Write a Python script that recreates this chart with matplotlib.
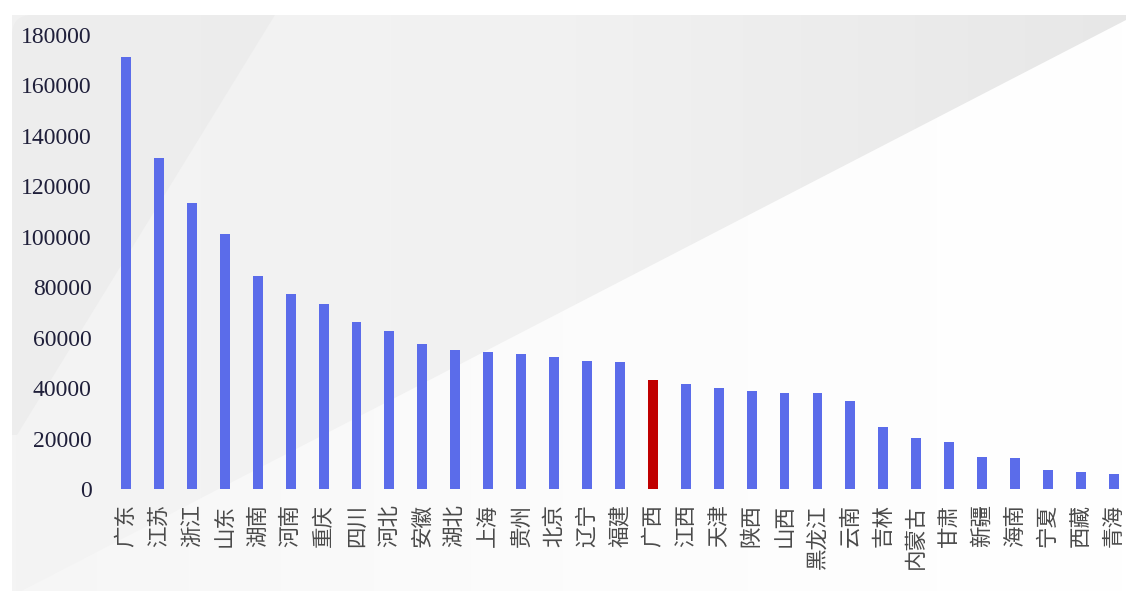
import numpy as np
import matplotlib.pyplot as plt
from matplotlib.colors import LinearSegmentedColormap
from matplotlib.patches import Polygon, FancyBboxPatch

provinces = ["广东", "江苏", "浙江", "山东", "湖南", "河南", "重庆", "四川", "河北", "安徽",
             "湖北", "上海", "贵州", "北京", "辽宁", "福建", "广西", "江西", "天津", "陕西",
             "山西", "黑龙江", "云南", "吉林", "内蒙古", "甘肃", "新疆", "海南", "宁夏", "西藏", "青海"]
values = [171200, 131200, 113300, 101100, 84300, 77200, 73200, 66200, 62600, 57400,
          55100, 54300, 53400, 52300, 50700, 50300, 43100, 41500, 39900, 38900,
          38000, 38000, 34900, 24400, 20100, 18600, 12800, 12300, 7500, 6700, 6100]
highlight = "广西"
yticks = [0, 20000, 40000, 60000, 80000, 100000, 120000, 140000, 160000, 180000]

W, H = 1126, 591
fig = plt.figure(figsize=(W / 100, H / 100), dpi=100)
fig.patch.set_facecolor("white")

# background decoration, pixel coords
bg = fig.add_axes([0, 0, 1, 1], zorder=0)
bg.set_xlim(0, W)
bg.set_ylim(H, 0)
bg.axis("off")
grad = np.linspace(0, 1, 256)[None, :]
cmap = LinearSegmentedColormap.from_list("g", ["#f4f4f4", "#f1f1f1", "#e7e7e7"])
img = bg.imshow(grad, cmap=cmap, extent=[12, 1140, 600, 15], aspect="auto", zorder=0)
box = FancyBboxPatch((12, 15), 1140, 600, boxstyle="round,pad=0,rounding_size=20",
                     facecolor="none", edgecolor="none")
bg.add_patch(box)
img.set_clip_path(box)
# darker wedge on the left
bg.add_patch(Polygon([(12, 15), (275, 15), (17, 435), (12, 435)],
                     closed=True, facecolor="#e9e9e9", edgecolor="none", zorder=1, alpha=0.6))
# lighter lower-right area below the long diagonal
wcmap = LinearSegmentedColormap.from_list("w", ["#f6f6f6", "#fcfcfc", "#ffffff"])
wimg = bg.imshow(grad, cmap=wcmap, extent=[0, 1126, 602, 20], aspect="auto", zorder=2)
tri = Polygon([(1126, 20), (1126, 591), (0, 591), (0, 602)], closed=True,
              facecolor="none", edgecolor="none")
bg.add_patch(tri)
wimg.set_clip_path(tri)

ax = fig.add_axes([100 / W, (H - 489) / H, 1026 / W, (489 - 35) / H], zorder=1)
ax.patch.set_alpha(0)
x = np.arange(len(provinces))
colors = ["#c00000" if p == highlight else "#5b6cea" for p in provinces]
ax.bar(x, values, width=0.3, color=colors)
ax.set_xlim(-0.79, 30.37)
ax.set_ylim(0, 180000)
ax.set_yticks(yticks)
ax.set_yticklabels([str(v) for v in yticks], family=["Liberation Serif"],
                   fontsize=17, color="#1f1f3a")
ax.set_xticks(x)
ax.set_xticklabels(provinces, rotation=90, family=["Noto Sans CJK SC", "DejaVu Sans"],
                   fontsize=15.5, color="#4a4a4a", va="top", ha="center")
ax.tick_params(axis="both", length=0)
ax.tick_params(axis="x", pad=11)
ax.tick_params(axis="y", pad=6)
for s in ax.spines.values():
    s.set_visible(False)

fig.savefig("out.png", dpi=100)
